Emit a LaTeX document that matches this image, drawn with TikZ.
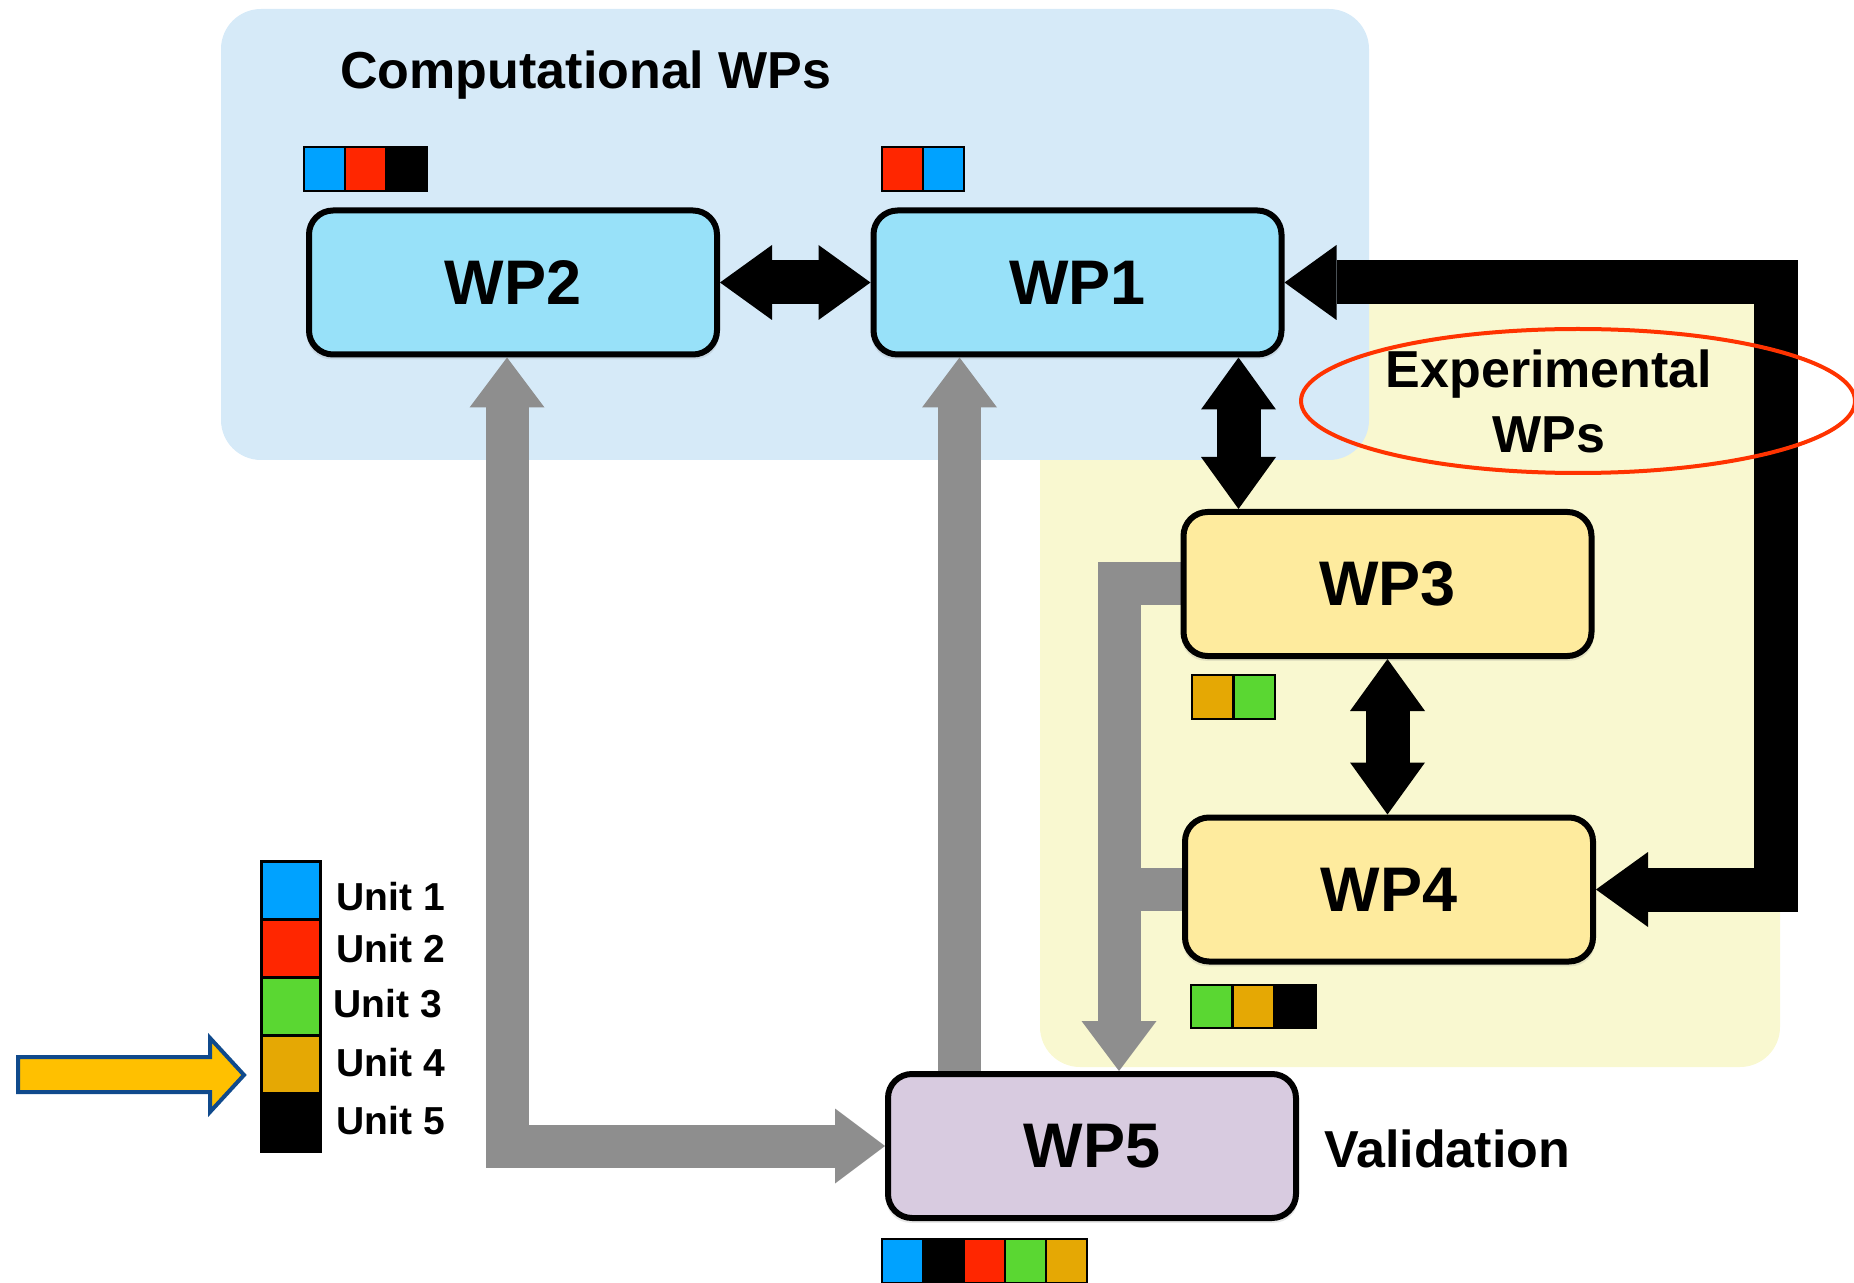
\documentclass[tikz,border=0pt]{standalone}
\usepackage{fontspec}
\setmainfont{Liberation Sans}
\usetikzlibrary{arrows.meta,shadows}

\definecolor{bluepanel}{RGB}{214,234,248}
\definecolor{yellowpanel}{RGB}{249,248,208}
\definecolor{wpblue}{RGB}{152,225,249}
\definecolor{wpyellow}{RGB}{254,235,158}
\definecolor{wppurple}{RGB}{216,203,224}
\definecolor{garrow}{RGB}{142,142,142}
\definecolor{ublue}{RGB}{0,162,255}
\definecolor{ured}{RGB}{255,38,0}
\definecolor{ugreen}{RGB}{90,215,50}
\definecolor{uorange}{RGB}{229,168,4}
\definecolor{ellred}{RGB}{255,51,0}
\definecolor{yarrow}{RGB}{255,192,0}
\definecolor{yarrowline}{RGB}{16,74,140}

\pgfdeclarelayer{panel}
\pgfdeclarelayer{conn}
\pgfsetlayers{panel,conn,main}

\tikzset{
  bhead/.tip={Triangle[width=37.5pt,length=26pt,line width=0pt]},
  ghead/.tip={Triangle[width=37.5pt,length=25pt,line width=0pt]},
}

\begin{document}
\begin{tikzpicture}[x=0.5pt,y=-0.5pt,
  wpbox/.style={draw=black, line width=3pt, rounded corners=12pt,
    minimum width=204pt, minimum height=72pt, inner sep=0pt,
    font=\fontsize{31.5}{36}\selectfont\bfseries,
    drop shadow={shadow xshift=0pt, shadow yshift=-2pt, opacity=0.18, shadow scale=1.01}},
  cell/.style={draw=black, line width=1.25pt},
  lcell/.style={draw=black, line width=1.5pt},
  blkarrow/.style={draw=black, line width=22pt, line join=miter, line cap=butt},
  grayarrow/.style={draw=garrow, line width=21.5pt, line join=miter, line cap=butt},
  title/.style={font=\fontsize{26}{31}\selectfont\bfseries, inner sep=0pt},
  unitlabel/.style={font=\fontsize{19.5}{23}\selectfont\bfseries, inner sep=0pt, anchor=base west},
]
\useasboundingbox (0,0) rectangle (1854,1283);

% panels
\begin{pgfonlayer}{panel}
\fill[yellowpanel, rounded corners=20pt] (1040,300) rectangle (1780,1067);
\fill[bluepanel, rounded corners=20pt] (221,9) rectangle (1369,460);
\end{pgfonlayer}

% boxes
\node[wpbox, fill=wpblue]   (WP2) at (513,282.5) {WP2};
\node[wpbox, fill=wpblue]   (WP1) at (1077.5,282.5) {WP1};
\node[wpbox, fill=wpyellow] (WP3) at (1387.5,584) {WP3};
\node[wpbox, fill=wpyellow] (WP4) at (1389,889.5) {WP4};
\node[wpbox, fill=wppurple] (WP5) at (1092,1146) {WP5};

% helper coordinates for connector lanes
\coordinate (g1) at (507,0);
\coordinate (g2) at (959.5,0);
\coordinate (g3) at (1119,0);
\coordinate (b1) at (1238.5,0);
\coordinate (br) at (1776,0);

\begin{pgfonlayer}{conn}
% gray connectors
\draw[grayarrow, arrows={ghead-ghead}] (WP2.south -| g1) |- (WP5.west);
\draw[grayarrow, arrows={-ghead}] (WP5.north -| g2) -- (WP1.south -| g2);
\draw[grayarrow] (WP4.west) -- (WP4.west -| g3);
\draw[grayarrow, arrows={-ghead}] (WP3.west) -| (WP5.north -| g3);
% black connectors
\draw[blkarrow, arrows={bhead-bhead}] (WP2.east) -- (WP1.west);
\draw[blkarrow, arrows={bhead-bhead}] (WP1.south -| b1) -- (WP3.north -| b1);
\draw[blkarrow, arrows={bhead-bhead}] (WP3.south) -- (WP4.north -| WP3.south);
\draw[blkarrow, arrows={bhead-bhead}] (WP1.east) -- (WP1.east -| br) |- (WP4.east);
\end{pgfonlayer}

% unit bars
\draw[cell, fill=ublue]   (304,147) rectangle (345,191);
\draw[cell, fill=ured]    (345,147) rectangle (386,191);
\draw[cell, fill=black]   (386,147) rectangle (427,191);

\draw[cell, fill=ured]    (882,147) rectangle (923,191);
\draw[cell, fill=ublue]   (923,147) rectangle (964,191);

\draw[cell, fill=uorange] (1192,675) rectangle (1233.5,719);
\draw[cell, fill=ugreen]  (1233.5,675) rectangle (1275,719);

\draw[cell, fill=ugreen]  (1191,985) rectangle (1232.5,1028);
\draw[cell, fill=uorange] (1232.5,985) rectangle (1274,1028);
\draw[cell, fill=black]   (1274,985) rectangle (1315.5,1028);

\draw[cell, fill=ublue]   (882,1239) rectangle (923,1283);
\draw[cell, fill=black]   (923,1239) rectangle (964,1283);
\draw[cell, fill=ured]    (964,1239) rectangle (1005,1283);
\draw[cell, fill=ugreen]  (1005,1239) rectangle (1046,1283);
\draw[cell, fill=uorange] (1046,1239) rectangle (1087,1283);

% legend
\draw[lcell, fill=ublue]   (261,861) rectangle (320,919);
\draw[lcell, fill=ured]    (261,919) rectangle (320,977);
\draw[lcell, fill=ugreen]  (261,977) rectangle (320,1035);
\draw[lcell, fill=uorange] (261,1035) rectangle (320,1093);
\draw[lcell, fill=black]   (261,1093) rectangle (320,1151);
\node[unitlabel] (u1) at (336,910) {Unit 1};
\node[unitlabel] (u2) at (336,962) {Unit 2};
\node[unitlabel] (u3) at (333,1017) {Unit 3};
\node[unitlabel] (u4) at (336,1076) {Unit 4};
\node[unitlabel] (u5) at (336,1134) {Unit 5};

% yellow pointer arrow
\draw[fill=yarrow, draw=yarrowline, line width=2pt, line join=miter]
  (18,1057) -- (210,1057) -- (210,1038) -- (244,1075) -- (210,1112) -- (210,1092) -- (18,1092) -- cycle;

% ellipse
\draw[ellred, line width=2pt] (1578,401) ellipse [x radius=138.5pt, y radius=36pt];

% texts
\node[title, anchor=base] (comp) at (586,89) {Computational WPs};
\node[title, anchor=base] (exp1) at (1549,388) {Experimental};
\node[title, anchor=base] (exp2) at (1549,453) {WPs};
\node[title, anchor=base west] (valid) at (1324,1167) {Validation};
\end{tikzpicture}
\end{document}
